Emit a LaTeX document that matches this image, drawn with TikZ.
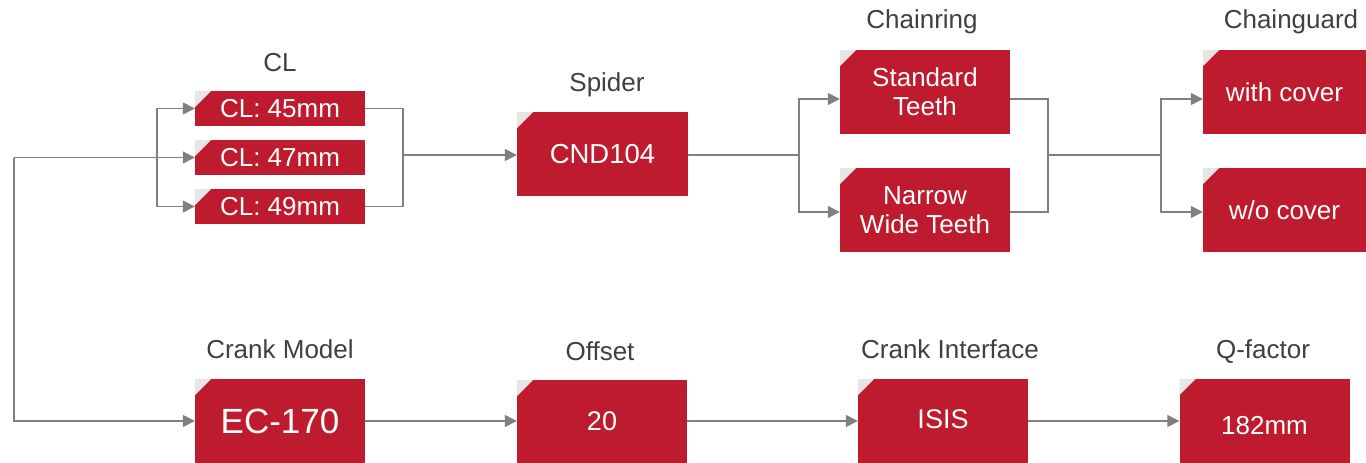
\documentclass[tikz,border=0pt]{standalone}
\usepackage{fontspec}
\setmainfont{Liberation Sans}
\usetikzlibrary{arrows.meta}
\definecolor{boxred}{RGB}{190,27,46}
\definecolor{cornergray}{RGB}{230,230,230}
\definecolor{linegray}{RGB}{128,128,128}
\definecolor{labelgray}{RGB}{64,64,64}
\begin{document}
\begin{tikzpicture}[x=1pt,y=-1pt,
  box/.style={fill=boxred,text=white,inner sep=0pt,minimum width=170pt,minimum height=84pt,
    align=center,font=\fontsize{26}{29}\selectfont,
    path picture={\fill[cornergray] (path picture bounding box.north west) -- ++(16pt,0pt) -- ++(-16pt,-16pt) -- cycle;}},
  one/.style={text height=18.6pt,text depth=0pt},
  small/.style={minimum height=35pt},
  lab/.style={text=labelgray,font=\fontsize{26}{30}\selectfont,anchor=base,inner sep=0pt},
  conn/.style={draw=linegray,line width=1.4pt},
  arr/.style={conn,-{Triangle[length=12pt,width=12pt]}}
]
\useasboundingbox[fill=white] (0,0) rectangle (1366,463);

% labels
\node[lab] (lcl) at (280,71) {CL};
\node[lab] (lsp) at (607,91) {Spider};
\node[lab] (lcr) at (922,28) {Chainring};
\node[lab] (lcg) at (1291,28) {Chainguard};
\node[lab] (lcm) at (280,358) {Crank Model};
\node[lab] (lof) at (600,360) {Offset};
\node[lab] (lci) at (950,358) {Crank Interface};
\node[lab] (lq) at (1263,358) {Q-factor};

% boxes
\node[box,one,small] (cl1) at (280,108.5) {CL: 45mm};
\node[box,one,small] (cl2) at (280,157.5) {CL: 47mm};
\node[box,one,small] (cl3) at (280,206.5) {CL: 49mm};
\node[box,one,minimum width=171pt,font=\fontsize{27.5}{30}\selectfont] (sp) at (602.5,154) {CND104};
\node[box] (cr1) at (925,92) {Standard\\Teeth};
\node[box] (cr2) at (925,210) {Narrow\\Wide Teeth};
\node[box,one,minimum width=163pt] (cg1) at (1284.5,92) {with cover};
\node[box,one,minimum width=163pt] (cg2) at (1284.5,210) {w/o cover};
\node[box,one,font=\fontsize{35}{40}\selectfont,text height=25pt] (ec) at (280,421) {EC-170};
\node[box,one,minimum height=83pt,font=\fontsize{27}{30}\selectfont,text height=19.3pt,text depth=2pt] (of) at (602,421.5) {20};
\node[box,one,font=\fontsize{27}{30}\selectfont,text height=19.3pt,text depth=4pt] (ci) at (943,421) {ISIS};
\node[box,one,text height=27.6pt] (q) at (1264.5,421) {182mm};

% junctions
\coordinate (j1) at (157,157.5);
\coordinate (c0) at (14,157.5);
\coordinate (j2) at (403,155);
\coordinate (j3) at (799,155);
\coordinate (j4) at (1048,155);
\coordinate (j5) at (1161,155);

% CL bracket
\draw[arr] (j1) |- (cl1.west);
\draw[arr] (j1) -- (cl2.west);
\draw[arr] (j1) |- (cl3.west);
\draw[conn] (j1) -- (c0);
\draw[arr] (c0) |- (ec.west);
\draw[conn] (cl1.east) -| (j2);
\draw[conn] (cl3.east) -| (j2);
\draw[arr] (j2) -- (sp.west |- j2);

% chainring
\draw[conn] (sp.east |- j3) -- (j3);
\draw[arr] (j3) |- ([yshift=-7pt]cr1.west);
\draw[arr] (j3) |- ([yshift=-2pt]cr2.west);
\draw[conn] ([yshift=-7pt]cr1.east) -| (j4);
\draw[conn] ([yshift=-2pt]cr2.east) -| (j4);
\draw[conn] (j4) -- (j5);
\draw[arr] (j5) |- ([yshift=-7pt]cg1.west);
\draw[arr] (j5) |- ([yshift=-2pt]cg2.west);

% bottom row
\draw[arr] (ec.east) -- (of.west |- ec.east);
\draw[arr] (of.east |- ec.east) -- (ci.west |- ec.east);
\draw[arr] (ci.east |- ec.east) -- (q.west |- ec.east);
\end{tikzpicture}
\end{document}
